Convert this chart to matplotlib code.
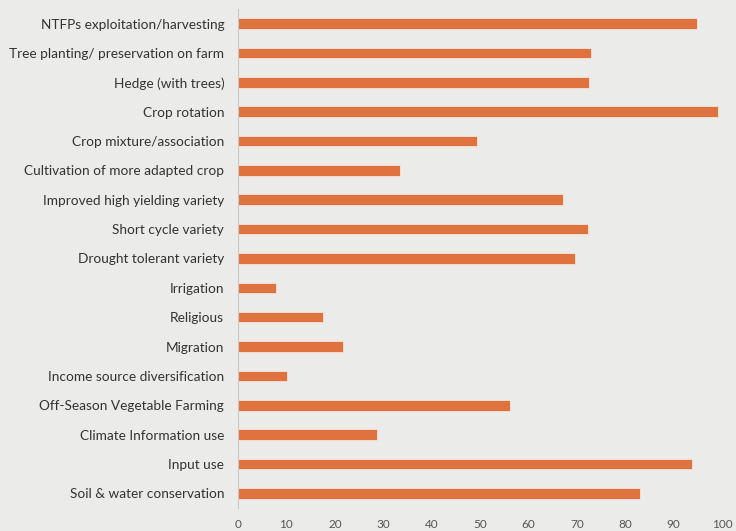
import matplotlib
matplotlib.use("Agg")
import matplotlib.pyplot as plt

# strategies listed top to bottom, with share of respondents (%)
strategies = [
    "NTFPs exploitation/harvesting",
    "Tree planting/ preservation on farm",
    "Hedge (with trees)",
    "Crop rotation",
    "Crop mixture/association",
    "Cultivation of more adapted crop",
    "Improved high yielding variety",
    "Short cycle variety",
    "Drought tolerant variety",
    "Irrigation",
    "Religious",
    "Migration",
    "Income source diversification",
    "Off-Season Vegetable Farming",
    "Climate Information use",
    "Input use",
    "Soil & water conservation",
]
percent = [94.8, 72.9, 72.5, 99.2, 49.4, 33.5, 67.1, 72.3, 69.6,
           7.9, 17.6, 21.7, 10.1, 56.2, 28.7, 93.8, 83.0]
xticks = [0, 10, 20, 30, 40, 50, 60, 70, 80, 90, 100]

bg = "#ebebe9"
fig = plt.figure(figsize=(7.36, 5.31), dpi=100, facecolor=bg)
ax = fig.add_axes([0.3234, 0.0433, 0.6576, 0.94], facecolor=bg)

pos = list(range(len(strategies)))
ax.barh(pos, percent, height=0.36, color="#e07240",
        edgecolor="#f6e6d8", linewidth=0.6)

ax.set_ylim(len(strategies) - 0.5, -0.5)
ax.set_xlim(0, 100)
ax.set_yticks(pos)
ax.set_yticklabels(strategies, fontsize=9.8, color="#333333", family="Lato")
ax.set_xticks(xticks)
ax.set_xticklabels([str(t) for t in xticks], fontsize=8.5, color="#555555",
                   family="Lato")
ax.tick_params(axis="both", length=0)
ax.tick_params(axis="y", pad=10)
ax.tick_params(axis="x", pad=8)

for s in ["top", "right", "bottom"]:
    ax.spines[s].set_visible(False)
ax.spines["left"].set_color("#c8c8c8")
ax.spines["left"].set_linewidth(0.8)

fig.savefig("out.png", dpi=100, facecolor=bg)
